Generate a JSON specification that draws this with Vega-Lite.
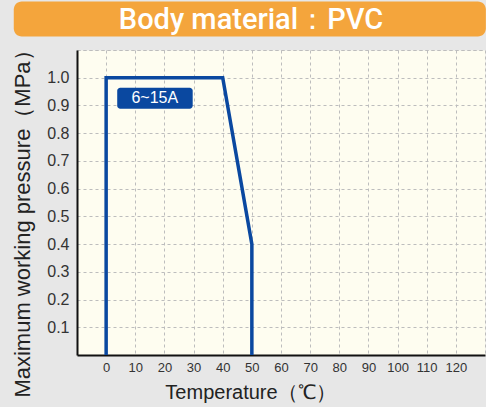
{
  "$schema": "https://vega.github.io/schema/vega-lite/v6.json",
  "autosize": "none",
  "width": 408,
  "height": 305,
  "padding": {"left": 77, "top": 50, "right": 1, "bottom": 52},
  "background": "#e7e7e7",
  "config": {
    "view": {"fill": "#fefdf0", "stroke": "#bdbdbd", "strokeDash": [3, 3], "strokeWidth": 1},
    "font": "Liberation Sans",
    "axis": {"labelOverlap": false}
  },
  "datasets": {
    "curve": [
      {"x": 0, "y": 0, "o": 0},
      {"x": 0, "y": 1.0, "o": 1},
      {"x": 40, "y": 1.0, "o": 2},
      {"x": 50, "y": 0.4, "o": 3},
      {"x": 50, "y": 0, "o": 4}
    ],
    "bannerbox": [{"x": -31.7, "x2": 130.3, "y": 1.275, "y2": 1.149}],
    "bannertext": [{"x": 49.7, "y": 1.21, "label": "Body material：PVC"}],
    "tagbox": [{"x": 3.8, "x2": 29.7, "y": 0.964, "y2": 0.888}],
    "tagtext": [{"x": 16.7, "y": 0.926, "label": "6~15A"}]
  },
  "encoding": {
    "x": {
      "field": "x", "type": "quantitative",
      "scale": {"domain": [-10, 130], "nice": false, "zero": false},
      "axis": {
        "values": [0, 10, 20, 30, 40, 50, 60, 70, 80, 90, 100, 110, 120],
        "labelOverlap": false,
        "title": "Temperature（℃）",
        "titleFont": "Liberation Sans", "titleFontSize": 20, "titleFontWeight": "normal", "titleColor": "#222",
        "titleX": 173, "titleY": 37, "titleBaseline": "middle", "titleAnchor": null,
        "labelFont": "Liberation Sans", "labelFontSize": 13, "labelColor": "#333",
        "labelPadding": 6, "ticks": false,
        "domainColor": "#111", "domainWidth": 2,
        "grid": true, "gridColor": "#bdbdbd", "gridDash": [3, 3], "gridWidth": 1
      }
    },
    "y": {
      "field": "y", "type": "quantitative",
      "scale": {"domain": [0, 1.1], "nice": false},
      "axis": {
        "values": [0.1, 0.2, 0.3, 0.4, 0.5, 0.6, 0.7, 0.8, 0.9, 1.0, 1.1],
        "labelOverlap": false,
        "labelExpr": "datum.value > 1.05 ? '' : format(datum.value, '.1f')",
        "title": "Maximum working pressure（MPa）",
        "titleFont": "Liberation Sans", "titleFontSize": 22, "titleFontWeight": "normal", "titleColor": "#222",
        "titleX": -55, "titleY": 168, "titleAngle": 270, "titleBaseline": "middle", "titleAlign": "center", "titleAnchor": null,
        "labelFont": "Liberation Sans", "labelFontSize": 16, "labelColor": "#333",
        "labelPadding": 8, "ticks": false,
        "domainColor": "#111", "domainWidth": 2,
        "grid": true, "gridColor": "#bdbdbd", "gridDash": [3, 3], "gridWidth": 1
      }
    }
  },
  "layer": [
    {
      "data": {"name": "curve"},
      "mark": {"type": "line", "color": "#0a48a0", "strokeWidth": 3.5, "strokeJoin": "miter", "clip": false},
      "encoding": {"order": {"field": "o"}}
    },
    {
      "data": {"name": "tagbox"},
      "mark": {"type": "rect", "color": "#0a48a0", "cornerRadius": 3},
      "encoding": {"x2": {"field": "x2"}, "y2": {"field": "y2"}}
    },
    {
      "data": {"name": "tagtext"},
      "mark": {"type": "text", "color": "white", "fontSize": 16, "font": "Liberation Sans", "align": "center", "baseline": "middle"},
      "encoding": {"text": {"field": "label"}}
    },
    {
      "data": {"name": "bannerbox"},
      "mark": {"type": "rect", "color": "#f4a53c", "cornerRadius": 8, "clip": false},
      "encoding": {"x2": {"field": "x2"}, "y2": {"field": "y2"}}
    },
    {
      "data": {"name": "bannertext"},
      "mark": {"type": "text", "color": "white", "fontSize": 29, "font": "Roboto", "fontWeight": 500, "align": "center", "baseline": "middle", "clip": false},
      "encoding": {"text": {"field": "label"}}
    }
  ]
}
